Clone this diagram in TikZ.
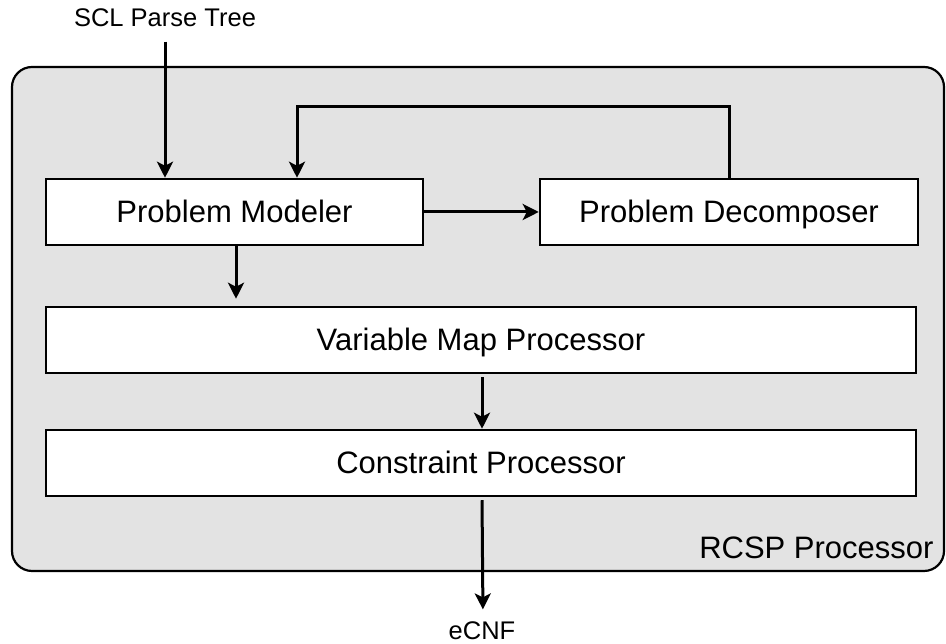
\documentclass[tikz,border=0pt]{standalone}
\usepackage{fontspec}
\setmainfont{Liberation Sans}
\usetikzlibrary{arrows.meta}
\definecolor{panelgray}{RGB}{227,227,227}
\begin{document}
\begin{tikzpicture}[node distance=123pt]
\tikzstyle{frame} = [rectangle, rounded corners=20pt, draw=black, line width=2.2pt, fill=panelgray, minimum width=932pt, minimum height=504pt]

\tikzstyle{process} = [rectangle, minimum height=66pt, inner sep=0pt, text height=21pt, text depth=0pt, text centered, draw=black, line width=2.5pt, fill=white, font=\fontsize{31}{36}\selectfont]

\tikzstyle{wideproc} = [process, minimum width=870pt]
\tikzstyle{iolabel} = [font=\fontsize{25.5}{30}\selectfont]
\tikzstyle{arrow} = [line width=3pt, -{Stealth[length=16pt, width=16pt, inset=4pt]}]

\useasboundingbox (0,0) rectangle (946pt,644pt);

\node (rcsp) [frame] at (478pt,325pt) {};
\node (rcsplabel) [anchor=east, font=\fontsize{31}{36}\selectfont] at ([xshift=-8pt, yshift=24pt]rcsp.south east) {RCSP Processor};

\node (scl) [iolabel] at (165pt,626pt) {SCL Parse Tree};
\node (pm) [process, minimum width=377pt] at (234.5pt,432pt) {Problem Modeler};
\node (pd) [process, minimum width=378pt, right of=pm, xshift=371.5pt] {Problem Decomposer};
\node (vmp) [wideproc, below of=pm, xshift=246.5pt, yshift=-5pt] {Variable Map Processor};
\node (cp) [wideproc, below of=vmp] {Constraint Processor};
\node (ecnf) [iolabel] at (482pt,13pt) {eCNF};

%\node (dummy) [process, right of=cp] {};

\draw [arrow, shorten <=11pt] (scl) -- (scl |- pm.north);
\draw [arrow] (pm) -- (pd);
\draw [arrow] (pd.north) -- ++(0,71pt) -| ([xshift=62.5pt]pm.north);
\draw [arrow, shorten >=7pt] ([xshift=1.5pt]pm.south) -- ([xshift=1.5pt]pm.south |- vmp.north);
\draw [arrow, shorten <=3pt] ([xshift=1pt]vmp.south) -- ([xshift=1pt]cp.north);
\draw [arrow, shorten <=3pt, shorten >=9pt] ([xshift=1pt]cp.south) -- ([xshift=1pt]ecnf.north);

\end{tikzpicture}
\end{document}
